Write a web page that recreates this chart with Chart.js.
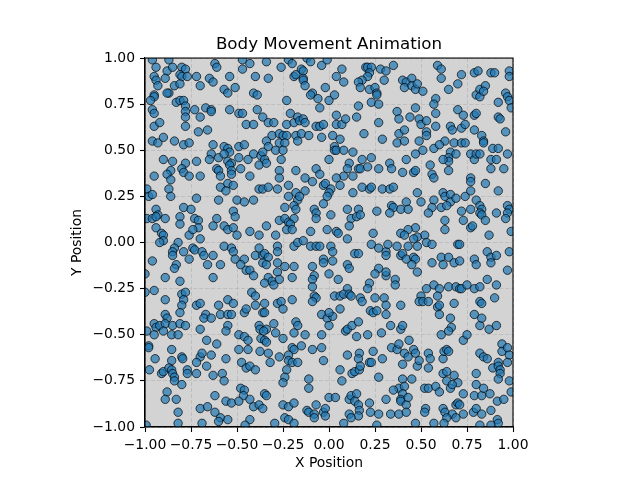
<!DOCTYPE html>
<html>
<head>
<meta charset="utf-8">
<script src="https://cdn.jsdelivr.net/npm/chart.js@4.4.0/dist/chart.umd.min.js"></script>
<style>
  html, body { margin: 0; padding: 0; background: #fff; }
  canvas { display: block; }
</style>
</head>
<body>
<canvas id="chart" width="640" height="480"></canvas>
<script>
// positions, [x, y]
const bodyPositions = [
  // top left
  [-0.96,0.99],[-0.87,0.99],[-0.62,0.97],[-0.61,0.95],[-0.47,0.99],[-0.43,0.97],
  [-0.94,0.95],[-0.88,0.93],[-0.85,0.95],[-0.80,0.95],[-0.78,0.94],[-0.72,0.90],[-0.65,0.89],[-0.63,0.87],[-0.54,0.90],[-0.40,0.90],[-0.47,0.94],
  [-0.95,0.90],[-0.94,0.88],[-0.89,0.89],[-0.81,0.91],[-0.80,0.90],[-0.77,0.90],
  [-0.93,0.85],[-0.84,0.85],[-0.81,0.86],[-0.87,0.81],[-0.88,0.81],[-0.70,0.85],[-0.57,0.83],[-0.55,0.81],[-0.51,0.84],[-0.41,0.81],[-0.39,0.80],
  [-0.95,0.80],[-0.95,0.79],[-0.97,0.77],[-0.83,0.76],[-0.81,0.77],[-0.79,0.77],[-0.78,0.74],[-0.67,0.73],[-0.64,0.72],[-0.64,0.71],[-0.54,0.72],[-0.49,0.70],[-0.47,0.70],[-0.39,0.72],
  [-0.96,0.72],[-0.95,0.70],[-0.78,0.71],[-0.78,0.68],[-0.73,0.72],[-0.70,0.68],
  [-0.95,0.63],[-0.92,0.65],[-0.78,0.63],[-0.71,0.60],[-0.66,0.61],[-0.45,0.64],[-0.41,0.64],
  [-0.96,0.55],[-0.93,0.54],[-0.90,0.57],[-0.84,0.55],[-0.79,0.53],[-0.76,0.54],[-0.63,0.53],[-0.57,0.52],[-0.55,0.51],[-0.54,0.49],[-0.49,0.52],[-0.46,0.53],[-0.41,0.48],
  [-0.90,0.45],[-0.85,0.44],[-0.78,0.43],[-0.72,0.44],[-0.64,0.48],[-0.65,0.45],[-0.60,0.46],[-0.57,0.48],[-0.55,0.44],[-0.53,0.43],[-0.49,0.46],[-0.44,0.45],[-0.37,0.47],[-0.38,0.42],
  [-0.80,0.40],[-0.79,0.38],[-0.86,0.39],[-0.88,0.37],[-0.95,0.36],[-0.61,0.40],[-0.60,0.39],[-0.54,0.42],[-0.53,0.39],[-0.48,0.40],[-0.70,0.36],[-0.53,0.37],[-0.43,0.36],[-0.59,0.36],[-0.76,0.36],
  // top middle
  [-0.34,0.98],[-0.26,0.95],[-0.22,0.99],[-0.20,0.97],[-0.12,1.00],[-0.10,0.98],[-0.04,0.96],[-0.01,0.99],[0.07,0.94],[0.04,0.90],[0.08,0.87],[0.20,0.95],[0.21,0.95],[0.23,0.95],[0.28,0.94],[0.31,0.93],[0.22,0.92],[0.21,0.90],[0.18,0.88],[0.16,0.87],[0.17,0.84],[0.30,0.88],
  [-0.33,0.89],[-0.19,0.90],[-0.18,0.91],[-0.15,0.94],[-0.14,0.93],[-0.14,0.89],[-0.14,0.88],[-0.13,0.85],[-0.02,0.84],[-0.09,0.81],[-0.10,0.80],[-0.06,0.78],[0.00,0.77],[0.03,0.80],[0.22,0.83],[0.25,0.84],[0.26,0.81],[0.26,0.80],[0.23,0.76],[0.27,0.75],[0.16,0.74],[-0.23,0.77],[-0.05,0.73],
  [-0.36,0.68],[-0.33,0.65],[-0.30,0.65],[-0.21,0.70],[-0.23,0.64],[-0.19,0.65],[-0.17,0.68],[-0.16,0.66],[-0.14,0.67],[-0.13,0.65],[-0.07,0.63],[-0.05,0.63],[-0.03,0.64],[0.04,0.69],[0.04,0.64],[0.07,0.64],[0.09,0.67],[0.15,0.68],[0.27,0.65],[0.19,0.59],[0.29,0.56],
  [-0.31,0.58],[-0.27,0.59],[-0.25,0.58],[-0.23,0.58],[-0.18,0.58],[-0.15,0.59],[-0.11,0.58],[-0.27,0.54],[-0.24,0.54],[-0.17,0.55],[-0.04,0.57],[0.02,0.58],[0.06,0.56],[-0.34,0.55],[-0.33,0.52],[-0.29,0.50],[-0.25,0.50],[0.03,0.52],[0.03,0.50],[0.04,0.50],[0.08,0.50],[0.13,0.49],
  [-0.36,0.49],[-0.35,0.45],[-0.34,0.43],[-0.26,0.45],[0.00,0.45],[0.18,0.45],[0.23,0.46],[0.11,0.43],[0.10,0.40],[0.16,0.40],[0.17,0.40],[0.21,0.41],[0.27,0.40],
  [-0.27,0.39],[-0.18,0.39],[-0.07,0.40],[-0.05,0.37],[0.08,0.36],[0.13,0.36],
  // top right
  [0.35,0.96],[0.59,0.96],[0.61,0.94],[0.61,0.89],[0.72,0.91],[0.79,0.92],[0.81,0.93],[0.88,0.92],[0.90,0.92],[0.98,0.93],[0.98,0.90],
  [0.40,0.88],[0.42,0.87],[0.45,0.89],[0.41,0.84],[0.45,0.85],[0.47,0.83],[0.48,0.86],[0.51,0.82],[0.65,0.83],[0.70,0.86],[0.80,0.80],[0.82,0.83],[0.82,0.79],[0.85,0.85],[0.84,0.82],[0.92,0.76],[0.96,0.81],[0.97,0.79],[0.98,0.77],[0.99,0.73],
  [0.58,0.78],[0.57,0.75],[0.47,0.73],[0.37,0.71],[0.38,0.67],[0.44,0.68],[0.49,0.67],[0.50,0.64],[0.53,0.66],[0.58,0.70],[0.70,0.72],[0.73,0.69],[0.79,0.69],[0.80,0.70],[0.92,0.68],[0.93,0.67],
  [0.53,0.60],[0.53,0.58],[0.58,0.63],[0.66,0.63],[0.67,0.61],[0.72,0.62],[0.74,0.64],[0.79,0.61],[0.83,0.58],[0.84,0.55],[0.84,0.54],[0.96,0.60],[0.38,0.59],[0.41,0.61],[0.37,0.54],[0.41,0.55],[0.49,0.55],[0.57,0.51],[0.51,0.50],[0.63,0.55],[0.60,0.53],[0.68,0.54],[0.72,0.54],[0.74,0.54],[0.89,0.51],[0.92,0.51],[0.97,0.48],
  [0.47,0.48],[0.66,0.49],[0.69,0.48],[0.65,0.46],[0.65,0.44],[0.62,0.45],[0.77,0.48],[0.79,0.45],[0.80,0.48],[0.82,0.48],[0.88,0.45],[0.91,0.45],[0.88,0.40],[0.95,0.40],[0.33,0.43],[0.34,0.40],[0.42,0.45],[0.40,0.38],[0.46,0.38],[0.47,0.39],[0.55,0.42],[0.56,0.37],[0.65,0.39],[0.77,0.35],
  // middle left
  [-0.86,0.34],[-0.59,0.30],[-0.55,0.32],[-0.52,0.31],[-0.56,0.28],[-0.38,0.29],[-0.36,0.29],
  [-0.99,0.29],[-0.98,0.25],[-0.96,0.26],[-0.87,0.29],[-0.86,0.25],[-0.72,0.24],[-0.60,0.23],[-0.50,0.23],[-0.46,0.22],[-0.41,0.23],
  [-0.94,0.18],[-0.93,0.15],[-0.79,0.19],[-0.75,0.18],[-0.99,0.13],[-0.96,0.13],[-0.94,0.14],[-0.89,0.13],[-0.81,0.14],[-0.73,0.13],[-0.71,0.12],[-0.61,0.13],[-0.52,0.17],[-0.51,0.14],
  [-0.81,0.10],[-0.71,0.08],[-0.94,0.08],[-0.91,0.05],[-0.90,0.04],[-0.90,0.01],[-0.92,0.00],[-0.76,0.04],[-0.74,0.07],[-0.70,0.02],[-0.63,0.09],[-0.57,0.09],[-0.55,0.07],[-0.52,0.08],[-0.50,0.04],[-0.43,0.06],[-0.38,0.04],
  [-0.82,0.00],[-0.84,-0.03],[-0.85,-0.05],[-0.85,-0.07],[-0.79,-0.05],[-0.74,-0.03],[-0.73,-0.04],[-0.69,-0.05],[-0.68,-0.07],[-0.63,-0.07],[-0.57,-0.02],[-0.53,-0.03],[-0.52,-0.05],[-0.51,-0.09],[-0.46,-0.09],[-0.40,-0.07],[-0.38,-0.03],[-0.36,-0.07],
  [-0.96,-0.10],[-0.76,-0.09],[-0.66,-0.12],[-0.59,-0.12],[-0.48,-0.12],[-0.83,-0.12],[-0.84,-0.14],[-1.00,-0.17],[-0.89,-0.19],[-0.81,-0.21],[-0.63,-0.19],[-0.45,-0.15],[-0.43,-0.15],[-0.41,-0.18],
  [-1.00,-0.27],[-0.95,-0.26],[-0.80,-0.28],[-0.78,-0.27],[-0.89,-0.31],[-0.79,-0.31],[-0.55,-0.31],[-0.42,-0.27],[-0.40,-0.29],
  // centre
  [-0.33,0.30],[-0.28,0.29],[-0.27,0.35],[-0.22,0.31],[-0.13,0.35],[-0.09,0.33],[-0.03,0.31],[-0.02,0.32],[0.01,0.29],[0.04,0.35],[0.06,0.31],[0.13,0.27],[0.18,0.30],[0.22,0.29],[0.23,0.30],[0.29,0.29],
  [-0.18,0.27],[-0.13,0.28],[-0.22,0.25],[-0.17,0.23],[-0.16,0.25],[0.00,0.27],[-0.01,0.25],[-0.03,0.21],
  [-0.24,0.19],[-0.19,0.20],[-0.18,0.18],[-0.08,0.18],[-0.07,0.16],[-0.07,0.13],[0.01,0.15],[0.10,0.18],[0.16,0.18],[0.26,0.17],[0.12,0.13],[0.15,0.14],[0.17,0.15],[0.11,0.09],
  [-0.27,0.12],[-0.24,0.13],[-0.22,0.11],[-0.19,0.13],[-0.21,0.10],[-0.23,0.07],[-0.20,0.07],[-0.34,0.09],[-0.29,0.04],[-0.28,-0.02],[-0.28,-0.05],[-0.19,-0.02],[-0.17,0.00],[-0.14,0.01],[-0.10,-0.02],[-0.07,-0.02],[-0.05,-0.02],[-0.10,0.06],[-0.01,0.07],[0.04,0.06],[0.05,0.05],[0.10,0.02],[0.24,0.05],[0.23,-0.01],[0.27,-0.03],[0.31,-0.05],[0.01,-0.02],[0.02,-0.05],[0.14,-0.06],[0.16,-0.06],
  [-0.35,-0.06],[-0.33,-0.08],[-0.36,-0.11],[-0.34,-0.12],[-0.28,-0.11],[-0.24,-0.13],[-0.19,-0.13],[-0.09,-0.13],[-0.03,-0.09],[-0.03,-0.11],[0.02,-0.10],[0.10,-0.12],[0.11,-0.14],[0.27,-0.14],[0.25,-0.17],
  [-0.28,-0.16],[-0.33,-0.19],[-0.31,-0.21],[-0.27,-0.20],[-0.35,-0.22],[-0.30,-0.23],[-0.20,-0.19],[-0.08,-0.18],[-0.09,-0.20],[0.00,-0.17],[0.05,-0.20],[0.22,-0.22],[0.31,-0.18],[0.10,-0.25],[0.21,-0.25],[-0.09,-0.24],
  [-0.20,-0.31],[-0.08,-0.29],[-0.07,-0.30],[0.03,-0.29],[0.06,-0.29],[0.08,-0.28],[0.11,-0.28],[0.12,-0.29],[0.17,-0.30],[0.25,-0.30],[0.30,-0.30],
  // middle right
  [0.33,0.29],[0.35,0.30],
  [0.48,0.27],[0.57,0.35],[0.77,0.33],[0.85,0.32],[0.62,0.27],[0.63,0.25],[0.66,0.26],[0.66,0.22],[0.69,0.24],[0.74,0.25],[0.77,0.28],[0.80,0.23],[0.92,0.28],
  [0.34,0.20],[0.35,0.19],[0.39,0.18],[0.42,0.22],[0.43,0.18],[0.33,0.16],[0.50,0.22],[0.57,0.23],[0.56,0.19],[0.54,0.16],[0.61,0.19],[0.64,0.20],[0.72,0.17],[0.77,0.18],[0.82,0.20],[0.83,0.18],[0.82,0.16],[0.83,0.15],[0.85,0.12],[0.91,0.16],[0.97,0.20],[0.98,0.18],[0.97,0.16],[0.96,0.13],
  [0.63,0.12],[0.63,0.07],[0.73,0.12],[0.77,0.08],[0.78,0.09],[0.47,0.08],[0.43,0.07],[0.39,0.05],[0.41,0.04],[0.52,0.04],[0.48,0.03],[0.46,0.02],[0.87,0.04],[0.99,0.06],
  [0.32,-0.01],[0.37,-0.02],[0.43,-0.02],[0.48,-0.02],[0.53,0.00],[0.56,-0.01],[0.70,-0.01],[0.71,-0.01],[0.86,-0.05],[0.98,-0.05],
  [0.31,-0.07],[0.39,-0.07],[0.40,-0.06],[0.42,-0.09],[0.46,-0.08],[0.47,-0.09],[0.45,-0.12],[0.48,-0.16],[0.56,-0.11],[0.61,-0.08],[0.65,-0.08],[0.62,-0.12],[0.68,-0.11],[0.71,-0.10],[0.79,-0.09],[0.80,-0.12],[0.88,-0.08],[0.88,-0.11],[0.91,-0.07],[0.31,-0.16],[0.97,-0.15],
  [0.36,-0.20],[0.36,-0.23],[0.53,-0.25],[0.57,-0.23],[0.60,-0.25],[0.65,-0.24],[0.69,-0.24],[0.71,-0.25],[0.72,-0.25],[0.75,-0.23],[0.79,-0.25],[0.82,-0.24],[0.86,-0.20],[0.91,-0.23],
  [0.50,-0.29],[0.59,-0.29],[0.90,-0.30],
  // bottom left
  [-0.80,-0.34],[-0.72,-0.34],[-0.70,-0.33],[-0.60,-0.34],[-0.52,-0.33],[-0.40,-0.34],
  [-0.81,-0.38],[-0.67,-0.39],[-0.68,-0.41],[-0.64,-0.41],[-0.59,-0.39],[-0.55,-0.39],[-0.53,-0.39],[-0.46,-0.38],[-0.45,-0.36],[-0.36,-0.38],[-0.89,-0.39],[-0.88,-0.41],
  [-0.95,-0.44],[-0.94,-0.46],[-0.92,-0.45],[-0.89,-0.44],[-0.90,-0.48],[-0.85,-0.45],[-0.81,-0.44],[-0.78,-0.45],[-0.70,-0.47],[-0.99,-0.48],[-0.95,-0.50],[-0.855,-0.50],[-0.82,-0.50],[-0.55,-0.45],[-0.56,-0.48],[-0.49,-0.50],[-0.46,-0.51],[-0.44,-0.53],[-0.38,-0.45],[-0.375,-0.47],[-0.37,-0.52],
  [-0.98,-0.56],[-0.98,-0.57],[-0.855,-0.58],[-0.665,-0.53],[-0.61,-0.55],[-0.49,-0.58],[-0.44,-0.58],[-0.375,-0.59],
  [-0.945,-0.63],[-0.855,-0.64],[-0.80,-0.62],[-0.795,-0.63],[-0.70,-0.62],[-0.69,-0.60],[-0.72,-0.65],[-0.64,-0.61],[-0.56,-0.63],[-0.475,-0.65],[-0.45,-0.68],[-0.43,-0.67],[-0.40,-0.69],
  [-0.976,-0.69],[-0.91,-0.71],[-0.90,-0.70],[-0.87,-0.68],[-0.855,-0.69],[-0.85,-0.71],[-0.84,-0.73],[-0.84,-0.75],[-0.80,-0.77],[-0.77,-0.69],[-0.77,-0.71],[-0.72,-0.71],[-0.665,-0.67],[-0.63,-0.72],[-0.58,-0.71],[-0.57,-0.75],[-0.48,-0.79],[-0.46,-0.80],
  [-0.88,-0.81],[-0.89,-0.85],[-0.83,-0.85],[-0.465,-0.83],[-0.62,-0.83],[-0.56,-0.86],[-0.53,-0.87],[-0.49,-0.86],[-0.43,-0.85],[-0.41,-0.89],[-0.38,-0.88],
  [-0.82,-0.92],[-0.70,-0.90],[-0.66,-0.89],[-0.62,-0.92],[-0.59,-0.95],[-0.60,-0.97],[-0.55,-0.96],[-0.43,-0.96],[-0.456,-0.99],[-0.69,-0.98],[-0.82,-0.98],[-0.994,-0.99],
  // bottom middle
  [-0.35,-0.33],[-0.28,-0.33],[-0.26,-0.32],[-0.25,-0.36],[-0.09,-0.32],[0.18,-0.32],
  [-0.35,-0.38],[-0.30,-0.44],[-0.29,-0.49],[-0.34,-0.47],[-0.355,-0.48],[-0.04,-0.39],[-0.01,-0.41],[0.02,-0.40],[0.00,-0.38],[0.06,-0.36],[0.225,-0.37],[0.24,-0.38],[0.26,-0.37],[0.31,-0.39],
  [-0.18,-0.43],[-0.17,-0.45],[-0.19,-0.49],[-0.13,-0.50],[-0.04,-0.50],[0.00,-0.45],[0.09,-0.48],[0.10,-0.47],[0.125,-0.45],[0.16,-0.43],[0.15,-0.51],[0.21,-0.50],[0.285,-0.49],
  [-0.35,-0.53],[-0.34,-0.54],[-0.25,-0.52],[-0.20,-0.57],[-0.19,-0.58],[-0.15,-0.56],[-0.09,-0.58],[-0.04,-0.57],[-0.33,-0.60],[-0.27,-0.62],[-0.22,-0.61],[-0.22,-0.64],[-0.20,-0.65],[-0.17,-0.65],[-0.03,-0.64],[0.10,-0.61],[0.165,-0.60],[0.16,-0.63],[0.22,-0.65],[0.23,-0.65],[0.24,-0.59],[0.29,-0.63],[-0.32,-0.65],
  [-0.23,-0.69],[-0.24,-0.73],[-0.25,-0.76],[-0.11,-0.74],[-0.11,-0.79],[0.06,-0.69],[0.07,-0.75],[0.125,-0.71],[0.14,-0.70],[0.165,-0.69],[0.17,-0.67],[0.27,-0.73],
  [-0.35,-0.82],[-0.34,-0.83],[-0.36,-0.90],[-0.25,-0.88],[-0.22,-0.89],[-0.19,-0.87],[-0.07,-0.88],[-0.12,-0.91],[-0.11,-0.92],[-0.08,-0.93],[-0.08,-0.95],[-0.03,-0.92],[-0.02,-0.90],[-0.02,-0.94],[0.00,-0.84],[0.035,-0.84],[0.11,-0.85],[0.12,-0.83],[0.15,-0.82],[0.14,-0.86],[0.16,-0.88],[0.165,-0.91],[0.16,-0.94],[0.11,-0.93],[0.12,-0.95],[0.22,-0.87],[0.225,-0.92],[0.27,-0.93],[0.31,-0.85],
  [-0.24,-0.95],[-0.22,-0.96],[-0.19,-0.98],[-0.295,-0.98],[0.08,-0.98],[0.26,-0.99],
  // bottom right
  [0.31,-0.34],[0.39,-0.34],[0.49,-0.32],[0.51,-0.32],[0.54,-0.32],[0.59,-0.35],[0.60,-0.34],[0.68,-0.33],[0.82,-0.32],[0.83,-0.33],
  [0.335,-0.45],[0.39,-0.47],[0.40,-0.45],[0.60,-0.39],[0.66,-0.41],[0.665,-0.46],[0.61,-0.50],[0.65,-0.48],[0.73,-0.53],[0.75,-0.50],[0.79,-0.39],[0.82,-0.45],[0.83,-0.41],[0.87,-0.47],[0.91,-0.45],
  [0.34,-0.57],[0.37,-0.58],[0.38,-0.55],[0.435,-0.53],[0.41,-0.60],[0.43,-0.62],[0.46,-0.58],[0.47,-0.60],[0.40,-0.66],[0.48,-0.67],[0.49,-0.64],[0.54,-0.60],[0.55,-0.63],[0.54,-0.68],[0.62,-0.63],[0.625,-0.59],[0.64,-0.58],[0.65,-0.59],[0.82,-0.60],[0.84,-0.62],[0.86,-0.63],[0.94,-0.55],[0.94,-0.59],[0.97,-0.57],[0.98,-0.61],[0.89,-0.68],[0.92,-0.65],[0.92,-0.67],[0.93,-0.69],[0.93,-0.71],[0.92,-0.74],[0.97,-0.65],
  [0.40,-0.74],[0.45,-0.74],[0.38,-0.79],[0.35,-0.80],[0.41,-0.78],[0.40,-0.82],[0.39,-0.85],[0.39,-0.86],[0.42,-0.88],[0.43,-0.84],[0.52,-0.79],[0.54,-0.79],[0.58,-0.78],[0.60,-0.81],[0.62,-0.71],[0.64,-0.70],[0.68,-0.72],[0.70,-0.76],[0.64,-0.75],[0.66,-0.79],[0.67,-0.77],[0.73,-0.82],[0.80,-0.71],[0.80,-0.77],[0.79,-0.83],[0.83,-0.83],[0.84,-0.79],[0.875,-0.82],[0.915,-0.86],[0.95,-0.85],[0.98,-0.75],[0.99,-0.81],
  [0.335,-0.93],[0.38,-0.93],[0.42,-0.92],[0.525,-0.90],[0.52,-0.92],[0.62,-0.90],[0.63,-0.92],[0.69,-0.88],[0.70,-0.87],[0.71,-0.88],[0.67,-0.93],[0.69,-0.95],[0.73,-0.93],[0.64,-0.95],[0.57,-0.98],[0.625,-0.98],[0.47,-0.98],[0.785,-0.92],[0.80,-0.90],[0.83,-0.93],[0.88,-0.91],[0.915,-0.96],[0.92,-0.98],[0.88,-0.99],[0.82,-0.99]
];

const tickValues = [-1, -0.75, -0.5, -0.25, 0, 0.25, 0.5, 0.75, 1];
const tickLabels = ['\u22121.00', '\u22120.75', '\u22120.50', '\u22120.25', '0.00', '0.25', '0.50', '0.75', '1.00'];

const FONT = "'DejaVu Sans', 'Liberation Sans', sans-serif";
Chart.defaults.font.family = FONT;
Chart.defaults.color = '#000';

// grey plot background + black frame on all four sides
const axesBox = {
  id: 'axesBox',
  beforeDraw(chart) {
    const { ctx, chartArea: a } = chart;
    ctx.save();
    ctx.fillStyle = '#d3d3d3';
    ctx.fillRect(a.left, a.top, a.right - a.left, a.bottom - a.top);
    ctx.restore();
  },
  afterDraw(chart) {
    const { ctx, chartArea: a } = chart;
    ctx.save();
    ctx.strokeStyle = '#000';
    ctx.lineWidth = 1.1;
    ctx.strokeRect(a.left, a.top, a.right - a.left, a.bottom - a.top);
    ctx.restore();
  }
};

function axisOpts(title, size) {
  return {
    type: 'linear',
    min: -1,
    max: 1,
    afterBuildTicks: (s) => { s.ticks = tickValues.map(v => ({ value: v })); },
    ticks: {
      callback: (v) => tickLabels[tickValues.indexOf(v)],
      font: { size: 13.9 },
      padding: 5,
      autoSkip: false,
      maxRotation: 0
    },
    grid: {
      color: '#b4b4b4',
      lineWidth: 0.7,
      tickLength: 5,
      tickColor: '#000',
      tickWidth: 1.1
    },
    border: { display: true, color: '#000', width: 1.1, dash: [4, 2] },
    title: { display: true, text: title, font: { size: 13.9 }, padding: { top: 4, bottom: 4 } },
    afterFit: size
  };
}

new Chart(document.getElementById('chart'), {
  type: 'scatter',
  data: {
    datasets: [{
      data: bodyPositions.map(p => ({ x: p[0], y: p[1] })),
      backgroundColor: 'rgba(31,119,180,0.7)',
      borderColor: 'rgba(0,0,0,0.7)',
      borderWidth: 1,
      pointRadius: 4.2,
      clip: 0
    }]
  },
  options: {
    responsive: false,
    animation: false,
    devicePixelRatio: 1,
    layout: { padding: { left: 65, right: 127, top: 0, bottom: 4 } },
    plugins: {
      legend: { display: false },
      tooltip: { enabled: false },
      title: {
        display: true,
        fullSize: false,
        text: 'Body Movement Animation',
        font: { size: 16.7, weight: 'normal' },
        color: '#000',
        padding: { top: 35, bottom: 3 }
      }
    },
    scales: {
      x: axisOpts('X Position', (s) => { s.height = 49; }),
      y: axisOpts('Y Position', (s) => { s.width = 80; })
    }
  },
  plugins: [axesBox]
});
</script>
</body>
</html>
